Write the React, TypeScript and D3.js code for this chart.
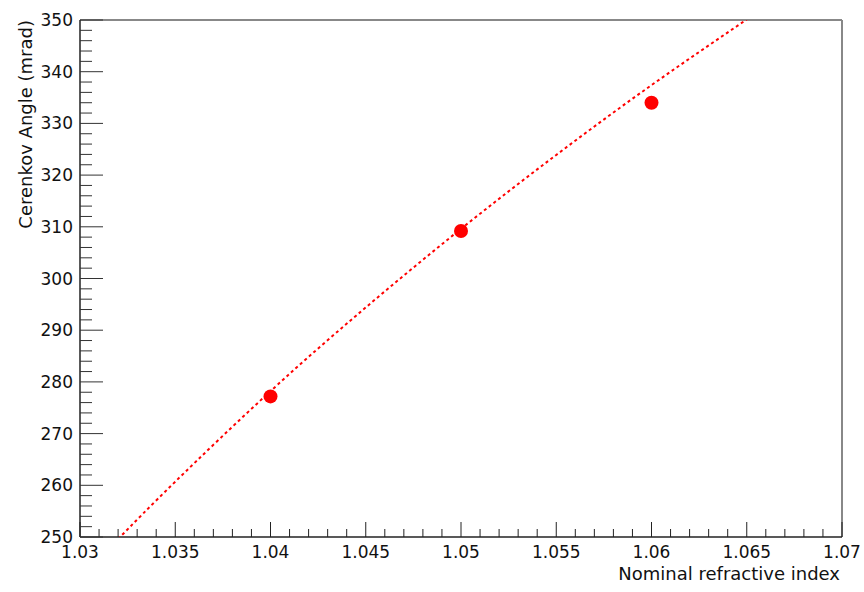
import { useEffect, useRef } from "react";
import * as d3 from "d3";

// measured points
const indexValues = [1.04, 1.05, 1.06];
const angleValues = [277.2, 309.2, 334.0];

// expected curve
const curveIndex = [1.032, 1.035, 1.04, 1.045, 1.05, 1.055, 1.06, 1.065];
const curveAngle = [249.6, 260.7, 278.2, 294.4, 309.6, 323.9, 337.4, 350.1];

const xTicks = [1.03, 1.035, 1.04, 1.045, 1.05, 1.055, 1.06, 1.065, 1.07];
const yTicks = [250, 260, 270, 280, 290, 300, 310, 320, 330, 340, 350];

const W = 864;
const H = 592;
const margin = { top: 20, right: 22, bottom: 55, left: 80 };
const font = "DejaVu Sans, Verdana, sans-serif";

export default function App() {
  const ref = useRef<SVGSVGElement>(null);

  useEffect(() => {
    const svg = d3.select(ref.current);
    svg.selectAll("*").remove();

    const width = W - margin.left - margin.right;
    const height = H - margin.top - margin.bottom;

    const x = d3.scaleLinear().domain([1.03, 1.07]).range([0, width]);
    const y = d3.scaleLinear().domain([250, 350]).range([height, 0]);

    const g = svg
      .append("g")
      .attr("transform", "translate(" + margin.left + "," + margin.top + ")");

    g.append("clipPath")
      .attr("id", "clip")
      .append("rect")
      .attr("width", width)
      .attr("height", height);

    // frame top / right
    g.append("line")
      .attr("x1", 0)
      .attr("x2", width)
      .attr("y1", 0)
      .attr("y2", 0)
      .attr("stroke", "#888")
      .attr("stroke-width", 2);
    g.append("line")
      .attr("x1", width)
      .attr("x2", width)
      .attr("y1", 0)
      .attr("y2", height)
      .attr("stroke", "#888")
      .attr("stroke-width", 2);

    // x axis
    const xAxis = g.append("g").attr("transform", "translate(0," + height + ")");
    xAxis
      .append("line")
      .attr("x1", 0)
      .attr("x2", width)
      .attr("stroke", "#222")
      .attr("stroke-width", 1.5);
    const xMinor = d3.range(0, 41).map((i) => 1.03 + i * 0.001);
    xAxis
      .selectAll(".xm")
      .data(xMinor)
      .join("line")
      .attr("x1", (d) => x(d))
      .attr("x2", (d) => x(d))
      .attr("y1", 0)
      .attr("y2", (d, i) => (i % 5 === 0 ? -15 : -8))
      .attr("stroke", "#222")
      .attr("stroke-width", 1);
    xAxis
      .selectAll(".xl")
      .data(xTicks)
      .join("text")
      .attr("x", (d) => x(d))
      .attr("y", 21)
      .attr("text-anchor", "middle")
      .style("font-family", font)
      .style("font-size", "17px")
      .attr("fill", "#111")
      .text((d) => String(d));
    xAxis
      .append("text")
      .attr("x", width - 2)
      .attr("y", 43)
      .attr("text-anchor", "end")
      .style("font-family", font)
      .style("font-size", "18px")
      .attr("fill", "#111")
      .text("Nominal refractive index");

    // y axis
    const yAxis = g.append("g");
    yAxis
      .append("line")
      .attr("y1", 0)
      .attr("y2", height)
      .attr("stroke", "#222")
      .attr("stroke-width", 1.5);
    const yMinor = d3.range(0, 51).map((i) => 250 + i * 2);
    yAxis
      .selectAll(".ym")
      .data(yMinor)
      .join("line")
      .attr("y1", (d) => y(d))
      .attr("y2", (d) => y(d))
      .attr("x1", 0)
      .attr("x2", (d, i) => (i % 5 === 0 ? 23 : 12))
      .attr("stroke", "#333")
      .attr("stroke-width", 1);
    yAxis
      .selectAll(".yl")
      .data(yTicks)
      .join("text")
      .attr("x", -7)
      .attr("y", (d) => y(d) + 6)
      .attr("text-anchor", "end")
      .style("font-family", font)
      .style("font-size", "17px")
      .attr("fill", "#111")
      .text((d) => String(d));
    yAxis
      .append("text")
      .attr("transform", "translate(-48,0)rotate(-90)")
      .attr("text-anchor", "end")
      .style("font-family", font)
      .style("font-size", "18px")
      .attr("fill", "#111")
      .text("Cerenkov Angle (mrad)");

    // curve
    const curveData = curveIndex.map((d, i) => [d, curveAngle[i]] as [number, number]);
    g.append("path")
      .datum(curveData)
      .attr("clip-path", "url(#clip)")
      .attr("fill", "none")
      .attr("stroke", "#ff0000")
      .attr("stroke-width", 2)
      .attr("stroke-dasharray", "3,3")
      .attr(
        "d",
        d3
          .line<[number, number]>()
          .x((d) => x(d[0]))
          .y((d) => y(d[1]))
          .curve(d3.curveNatural)
      );

    // points
    g.selectAll(".pt")
      .data(indexValues)
      .join("circle")
      .attr("cx", (d) => x(d))
      .attr("cy", (d, i) => y(angleValues[i]))
      .attr("r", 7)
      .attr("fill", "#ff0000");
  }, []);

  return (
    <div style={{ position: "fixed", top: 0, left: 0, background: "#fff" }}>
      <svg ref={ref} width={W} height={H} style={{ display: "block" }}></svg>
    </div>
  );
}
